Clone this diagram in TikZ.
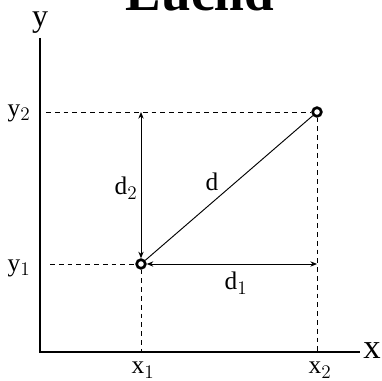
\documentclass[tikz,border=0pt]{standalone}
\usepackage{fontspec}
\setmainfont{Liberation Serif}
\usepackage{tikz}
\usetikzlibrary{arrows.meta}

\begin{document}
\begin{tikzpicture}[
        x=0.75pt, y=-0.75pt,
        axis/.style={line width=2.2pt},
        guide/.style={line width=0.7pt, dash pattern=on 3.6pt off 3pt},
        dim/.style={line width=0.7pt, {Stealth[length=5pt,width=4pt]}-{Stealth[length=5pt,width=4pt]}},
        pt/.style={circle, draw, line width=2pt, inner sep=0pt, minimum size=6.5pt, fill=white},
        lab/.style={font=\fontsize{19}{21}\selectfont, inner sep=1pt}
    ]
    \useasboundingbox (0,0) rectangle (382,381);

    % title, cut by the top edge
    \node[font=\fontsize{40}{40}\selectfont\bfseries, anchor=base] (title) at (200,11) {Euclid};

    % axes
    \coordinate (top) at (40,38);
    \coordinate (org) at (40,352);
    \coordinate (rgt) at (360,352);
    \draw[axis] (top) -- (org) -- (rgt);
    \node[font=\fontsize{24}{24}\selectfont, anchor=base] (ylab) at (40,27) {y};
    \node[font=\fontsize{26}{26}\selectfont, anchor=base] (xlab) at (372,358) {x};

    % the two points
    \node[pt] (p1) at (141,264) {};
    \node[pt] (p2) at (317,112) {};

    % guide lines
    \coordinate (a2) at (46,112);
    \coordinate (a1) at (50,264);
    \draw[guide] (a2) -- (p2);
    \draw[guide] (a1) -- (p1);
    \draw[guide] (p1) -- (p1 |- org);
    \draw[guide] (p2) -- (p2 |- org);

    % distances
    \draw[line width=0.7pt] (p1) -- (p2);
    \draw[dim] (p1) -- (p1 |- p2);
    \draw[dim] (p1) -- (p1 -| p2);

    % labels
    \node[lab] (ly2) at (19,113) {y$_2$};
    \node[lab] (ly1) at (19,268) {y$_1$};
    \node[lab] (lx1) at (143,370) {x$_1$};
    \node[lab] (lx2) at (320,370) {x$_2$};
    \node[lab] (ld2) at (126,188) {d$_2$};
    \node[lab] (ld) at (212,182) {d};
    \node[lab] (ld1) at (236,283) {d$_1$};

\end{tikzpicture}
\end{document}
